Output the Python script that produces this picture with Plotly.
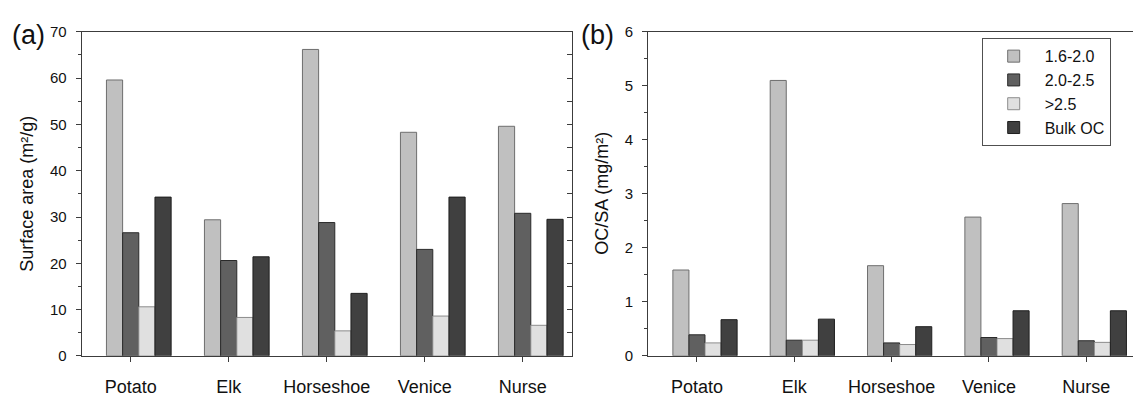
import plotly.graph_objects as go

sites = ["Potato", "Elk", "Horseshoe", "Venice", "Nurse"]
series_names = ["1.6-2.0", "2.0-2.5", ">2.5", "Bulk OC"]

# Panel (a): surface area (m2/g)
sa_16_20 = [59.6, 29.4, 66.2, 48.3, 49.6]
sa_20_25 = [26.6, 20.6, 28.8, 23.0, 30.8]
sa_gt25 = [10.6, 8.3, 5.4, 8.6, 6.6]
sa_bulk = [34.3, 21.4, 13.5, 34.3, 29.5]

# Panel (b): OC/SA (mg/m2)
ocsa_16_20 = [1.59, 5.10, 1.67, 2.57, 2.82]
ocsa_20_25 = [0.39, 0.29, 0.24, 0.34, 0.28]
ocsa_gt25 = [0.24, 0.29, 0.21, 0.32, 0.25]
ocsa_bulk = [0.67, 0.68, 0.54, 0.835, 0.835]

fills = ["#c0c0c0", "#606060", "#e0e0e0", "#404040"]
edges = ["#6e6e6e", "#2a2a2a", "#8c8c8c", "#1e1e1e"]

W, H = 1133, 397
FONT = "Liberation Sans, Arial, sans-serif"
AX = "#3c3c3c"

fig = go.Figure()

bw = 0.165
panel_a = [sa_16_20, sa_20_25, sa_gt25, sa_bulk]
panel_b = [ocsa_16_20, ocsa_20_25, ocsa_gt25, ocsa_bulk]
for k in range(4):
    off = -1.5 * bw + k * bw
    fig.add_trace(go.Bar(x=sites, y=panel_a[k], width=bw, offset=off,
                         name=series_names[k], showlegend=False,
                         marker=dict(color=fills[k], line=dict(color=edges[k], width=1)),
                         xaxis="x", yaxis="y"))
for k in range(4):
    off = -1.5 * bw + k * bw
    fig.add_trace(go.Bar(x=sites, y=panel_b[k], width=bw, offset=off,
                         name=series_names[k], showlegend=True,
                         marker=dict(color=fills[k], line=dict(color=edges[k], width=1)),
                         xaxis="x2", yaxis="y2"))

# dummy trace to show inward ticks on right side of panel (a)
fig.add_trace(go.Scatter(x=[sites[0]], y=[None], xaxis="x", yaxis="y3", mode="markers",
                         marker=dict(opacity=0), showlegend=False, hoverinfo="skip"))

ya_dom = [(H - 364.3) / H, (H - 24) / H]
xa_dom = [81.7 / W, 571.7 / W]
xb_dom = [648.3 / W, 1.0]

common_x = dict(type="category", showline=True, linecolor=AX, linewidth=1.2, mirror=True,
                ticks="outside", ticklen=5, tickcolor=AX, tickwidth=1.2,
                tickfont=dict(size=18, color="#111", family=FONT), showgrid=False,
                ticklabelstandoff=9)
common_y = dict(showline=True, linecolor=AX, linewidth=1.2, ticks="outside", ticklen=5,
                tickcolor=AX, tickwidth=1.2, tickfont=dict(size=15, color="#111", family=FONT),
                showgrid=False, zeroline=False, ticklabelstandoff=6)

fig.update_layout(
    width=W, height=H, margin=dict(l=0, r=0, t=0, b=0),
    paper_bgcolor="white", plot_bgcolor="white",
    barmode="overlay",
    font=dict(family=FONT, color="#111"),
    xaxis=dict(domain=xa_dom, anchor="y", range=[-0.5, 4.5], **common_x),
    xaxis2=dict(domain=xb_dom, anchor="y2", range=[-0.5, 4.48], **common_x),
    yaxis=dict(domain=ya_dom, anchor="x", range=[0, 70], dtick=10,
               minor=dict(dtick=5, ticks="outside", ticklen=3, tickcolor=AX), **common_y),
    yaxis2=dict(domain=ya_dom, anchor="x2", range=[0, 6], dtick=1,
                minor=dict(dtick=0.5, ticks="outside", ticklen=3, tickcolor=AX), **common_y),
    yaxis3=dict(overlaying="y", anchor="x", side="right", range=[0, 70], dtick=10,
                showline=True, linecolor=AX, linewidth=1.2, ticks="inside", ticklen=5,
                tickcolor=AX, tickwidth=1.2, showticklabels=False, showgrid=False,
                zeroline=False,
                minor=dict(dtick=5, ticks="inside", ticklen=5, tickcolor=AX)),
    legend=dict(x=981.7 / W, y=1 - 30.7 / H, xanchor="left", yanchor="top",
                bordercolor="#505050", borderwidth=1, bgcolor="white",
                font=dict(size=16, family=FONT, color="#111"), itemwidth=52,
                tracegroupgap=0),
    annotations=[
        dict(text="Surface area (m²/g)", x=27 / W, y=1 - 194 / H, xref="paper", yref="paper",
             textangle=-90, showarrow=False, font=dict(size=18, family=FONT, color="#111"),
             xanchor="center", yanchor="middle"),
        dict(text="OC/SA (mg/m²)", x=602 / W, y=1 - 194 / H, xref="paper", yref="paper",
             textangle=-90, showarrow=False, font=dict(size=18, family=FONT, color="#111"),
             xanchor="center", yanchor="middle"),
        dict(text="(a)", x=28 / W, y=1 - 27 / H, xref="paper", yref="paper", showarrow=False,
             font=dict(size=27, family=FONT, color="#111"), xanchor="center", yanchor="middle"),
        dict(text="(b)", x=598 / W, y=1 - 27 / H, xref="paper", yref="paper", showarrow=False,
             font=dict(size=27, family=FONT, color="#111"), xanchor="center", yanchor="middle"),
    ],
)

fig.write_html("out.html", config={"displayModeBar": False},
               post_script="document.body.style.margin='0px';")
